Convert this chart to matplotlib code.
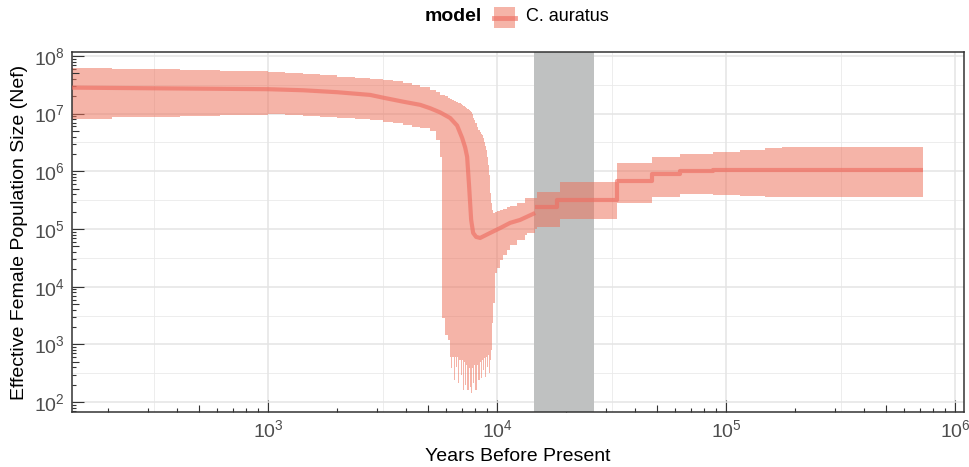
import matplotlib
matplotlib.use('Agg')
import matplotlib.pyplot as plt
import matplotlib.ticker as mticker
from matplotlib.markers import TICKUP, TICKRIGHT
from matplotlib.patches import Rectangle
from matplotlib.lines import Line2D

plt.rcParams['font.family'] = ['Liberation Sans', 'DejaVu Sans']
plt.rcParams['mathtext.default'] = 'regular'

# 95% HPD band of the skyline (left edge of each interval)
band_years = [139, 208, 413, 616, 1000, 1186, 1422, 1687, 2001, 2399, 2788, 3178,
              3515, 3886, 4255, 4611, 5098, 5415, 5637, 5753, 5929, 6110, 6234,
              6297, 6360, 6489, 6554, 6622, 6688, 6755, 6824, 6962, 7033, 7103,
              7175, 7248, 7320, 7396, 7546, 7623, 7700, 7778, 7856, 7935, 8015,
              8178, 8260, 8429, 8513, 8599, 8686, 8773, 8862, 8951, 9041, 9135,
              9228, 9320, 9415, 9510, 9605, 9801, 10000, 10306, 10622, 11057,
              11397, 12228, 13255, 13524, 14655, 14953, 18841, 33420, 47520,
              62970, 87760, 115100, 148000, 175600, 725000]
band_upper = [6.12e7, 5.88e7, 5.65e7, 5.43e7, 5.22e7, 5.03e7, 4.82e7, 4.59e7, 4.33e7,
              4.16e7, 3.99e7, 3.84e7, 3.61e7, 3.36e7, 3.14e7, 2.87e7, 2.58e7, 2.33e7,
              2.11e7, 2.07e7, 1.99e7, 1.87e7, 1.80e7, 1.76e7, 1.73e7, 1.66e7, 1.63e7,
              1.60e7, 1.56e7, 1.53e7, 1.50e7, 1.44e7, 1.42e7, 1.36e7, 1.33e7, 1.31e7,
              1.26e7, 1.21e7, 1.16e7, 1.11e7, 1.05e7, 9.88e6, 8.42e6, 7.78e6, 6.90e6,
              5.88e6, 5.22e6, 4.82e6, 4.45e6, 4.27e6, 3.79e6, 3.23e6, 2.76e6, 2.35e6,
              1.78e6, 1.29e6, 8.66e5, 4.22e5, 2.83e5, 2.14e5, 1.90e5, 1.98e5, 2.06e5,
              2.14e5, 2.23e5, 2.42e5, 2.51e5, 2.83e5, 3.46e5, 3.46e5, 3.46e5, 4.40e5,
              6.55e5, 1.42e6, 1.76e6, 1.98e6, 2.19e6, 2.35e6, 2.51e6, 2.62e6, 2.62e6]
band_lower = [8.09e6, 8.66e6, 9.12e6, 9.49e6, 9.76e6, 9.57e6, 9.23e6, 8.90e6, 8.52e6,
              8.09e6, 7.69e6, 7.27e6, 6.90e6, 6.37e6, 5.88e6, 5.65e6, 5.01e6, 3.50e6,
              1.78e6, 2880, 1460, 1200, 607, 391, 607, 242, 607, 408, 607, 215, 539,
              296, 539, 163, 497, 199, 441, 163, 391, 183, 144, 391, 215, 441, 163,
              441, 242, 497, 263, 539, 361, 583, 273, 607, 408, 658, 321, 539, 803,
              2360, 5240, 17300, 21200, 29100, 35600, 43400, 53000, 64700, 79100,
              85600, 100400, 108700, 149600, 280000, 364000, 406000, 390000, 375000,
              364000, 356000, 356000]

# median Nef, smooth part then piecewise-constant part
med_years = [139, 1000, 1422, 2001, 2788, 3178, 3886, 4611, 5098, 5637, 6234, 6688,
             7033, 7248, 7396, 7546, 7700, 7856, 8096, 8429, 9320, 10306, 11397,
             12600, 14655]
med_ne = [2.82e7, 2.65e7, 2.54e7, 2.35e7, 2.11e7, 1.89e7, 1.61e7, 1.42e7, 1.24e7,
          1.05e7, 8.4e6, 6.2e6, 3.79e6, 2.6e6, 1.78e6, 5.37e5, 1.44e5, 8.56e4,
          7.30e4, 7.01e4, 8.56e4, 1.04e5, 1.28e5, 1.44e5, 1.90e5]
step_years = [14655, 18290, 33420, 47520, 62970, 87760, 725000]
step_ne = [2.42e5, 3.19e5, 6.82e5, 9.01e5, 1.02e6, 1.06e6, 1.06e6]

# shaded period
shade_start, shade_end = 14500, 26500

x_major = [1e3, 1e4, 1e5, 1e6]
y_major = [1e2, 1e3, 1e4, 1e5, 1e6, 1e7, 1e8]
x_fives = [5e2, 5e3, 5e4, 5e5]
y_fives = [5e2, 5e3, 5e4, 5e5, 5e6, 5e7]

fill_col = '#EC7059'
line_col = '#EE6E62'
tick_col = '#333333'

fig = plt.figure(figsize=(9.7, 4.67), dpi=100)
ax = fig.add_axes([0.0742, 0.1178, 0.9196, 0.7709])
ax.set_xscale('log')
ax.set_yscale('log')
ax.set_xlim(139, 1.094e6)
ax.set_ylim(67.6, 1.17e8)

# grid: decades + half decades
ax.grid(True, which='major', color='#E4E4E4', lw=1.1, zorder=0)
for k in range(2, 6):
    ax.axvline(10 ** (k + 0.5), color='#EAEAEA', lw=0.6, zorder=0)
for k in range(1, 8):
    ax.axhline(10 ** (k + 0.5), color='#EAEAEA', lw=0.6, zorder=0)
ax.set_axisbelow(True)

ax.axvspan(shade_start, shade_end, color='#BFC1C1', lw=0, zorder=1)
ax.fill_between(band_years, band_lower, band_upper, step='post', color=fill_col,
                alpha=0.52, lw=0, zorder=2)
ax.plot(med_years, med_ne, color=line_col, alpha=0.65, lw=3, zorder=3,
        solid_capstyle='butt', solid_joinstyle='round')
ax.plot(step_years, step_ne, color=line_col, alpha=0.65, lw=3, zorder=3,
        drawstyle='steps-post', solid_capstyle='butt')

# log ticks inside like annotation_logticks
ax.xaxis.set_major_locator(mticker.FixedLocator(x_major))
ax.yaxis.set_major_locator(mticker.FixedLocator(y_major))
for axis in (ax.xaxis, ax.yaxis):
    axis.set_major_formatter(mticker.LogFormatterMathtext())
    axis.set_minor_locator(mticker.LogLocator(base=10, subs=[2, 3, 4, 6, 7, 8, 9], numticks=20))
    axis.set_minor_formatter(mticker.NullFormatter())
ax.tick_params(which='major', direction='in', length=8.4, width=0.8, color=tick_col,
               labelsize=14, labelcolor='#4D4D4D')
ax.tick_params(which='minor', direction='in', length=2.9, width=0.8, color=tick_col)
ax.tick_params(axis='x', which='major', pad=5)
ax.tick_params(axis='y', which='major', pad=5)

# mid-length ticks at 5 x 10^n
ax.plot(x_fives, [0] * len(x_fives), transform=ax.get_xaxis_transform(), ls='none',
        marker=TICKUP, markersize=5.3, markeredgewidth=0.8, color=tick_col, clip_on=False)
ax.plot([0] * len(y_fives), y_fives, transform=ax.get_yaxis_transform(), ls='none',
        marker=TICKRIGHT, markersize=5.3, markeredgewidth=0.8, color=tick_col, clip_on=False)

for s in ax.spines.values():
    s.set_color(tick_col)
    s.set_linewidth(1.1)

ax.set_xlabel('Years Before Present', fontsize=14, labelpad=5)
ax.set_ylabel('Effective Female Population Size (Nef)', fontsize=14, labelpad=4)

# legend on top
fig.text(0.4969, 0.9647, 'model', fontsize=14, fontweight='bold', ha='right', va='center')
fig.patches.append(Rectangle((0.5093, 0.940), 0.0216, 0.045, transform=fig.transFigure,
                             facecolor=fill_col, alpha=0.52, lw=0))
fig.lines.append(Line2D([0.5093, 0.5309], [0.9625, 0.9625], transform=fig.transFigure,
                        color=line_col, alpha=0.65, lw=3.5))
fig.text(0.5423, 0.9647, 'C. auratus', fontsize=13, ha='left', va='center')

fig.savefig('out.png', dpi=100)
